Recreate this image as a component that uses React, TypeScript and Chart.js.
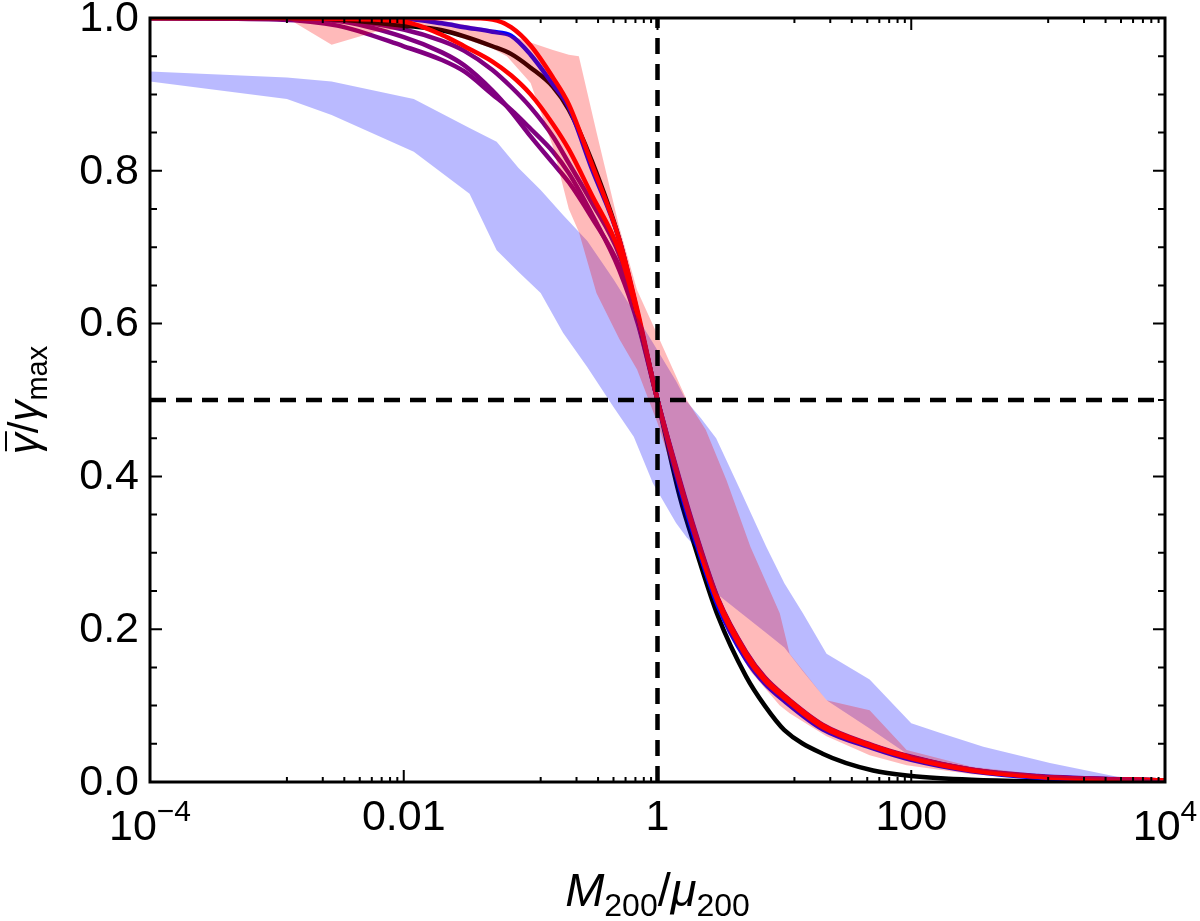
import { useEffect, useRef } from "react";
import Chart from "chart.js/auto";

// sample positions for the model curves (M200/mu200)
const X_LINES = [1e-4, 1e-3, 0.003, 0.01, 0.02, 0.03, 0.05, 0.07, 0.1, 0.15, 0.2, 0.3, 0.5, 0.7, 1, 1.5, 2, 3, 5, 7, 10, 20, 50, 100, 300, 1000, 1e4];

const BLACK = [1, 1, 0.998, 0.99, 0.984, 0.976, 0.963, 0.953, 0.935, 0.91, 0.88, 0.815, 0.71, 0.61, 0.5, 0.373, 0.305, 0.217, 0.138, 0.1, 0.068, 0.037, 0.015, 0.008, 0.003, 0.001, 0];
const RED_A = [1, 1, 1, 1, 1, 1, 0.998, 0.988, 0.964, 0.922, 0.887, 0.811, 0.71, 0.615, 0.5, 0.39, 0.32, 0.235, 0.165, 0.133, 0.11, 0.072, 0.046, 0.031, 0.015, 0.007, 0.002];
const RED_B = [1, 1, 0.999, 0.995, 0.978, 0.963, 0.943, 0.925, 0.9, 0.861, 0.828, 0.77, 0.695, 0.61, 0.5, 0.392, 0.323, 0.238, 0.168, 0.135, 0.112, 0.074, 0.047, 0.032, 0.016, 0.007, 0.002];
const BLUE = [1, 1, 1, 0.999, 0.993, 0.988, 0.982, 0.977, 0.952, 0.913, 0.883, 0.805, 0.71, 0.612, 0.5, 0.385, 0.315, 0.23, 0.16, 0.129, 0.106, 0.069, 0.044, 0.029, 0.014, 0.006, 0.002];
const PURPLE_A = [1, 0.998, 0.99, 0.963, 0.945, 0.93, 0.9, 0.88, 0.855, 0.825, 0.797, 0.745, 0.67, 0.6, 0.5, 0.395, 0.326, 0.24, 0.17, 0.137, 0.113, 0.075, 0.048, 0.033, 0.016, 0.008, 0.002];
const PURPLE_B = [1, 0.999, 0.996, 0.975, 0.955, 0.938, 0.905, 0.878, 0.845, 0.81, 0.785, 0.74, 0.675, 0.603, 0.5, 0.393, 0.324, 0.239, 0.169, 0.136, 0.112, 0.074, 0.047, 0.032, 0.016, 0.007, 0.002];
const PURPLE_C = [1, 1, 0.998, 0.985, 0.97, 0.957, 0.932, 0.91, 0.883, 0.845, 0.81, 0.76, 0.69, 0.61, 0.5, 0.391, 0.322, 0.237, 0.167, 0.134, 0.111, 0.073, 0.047, 0.032, 0.015, 0.007, 0.002];

// blue shaded range
const BLUE_BAND_X = [1e-4, 1.2e-3, 0.0027, 0.012, 0.033, 0.054, 0.08, 0.12, 0.18, 0.28, 0.45, 0.65, 0.92, 1.4, 1.7, 2.2, 2.9, 4.5, 7.2, 10, 14, 21.5, 47, 100, 170, 370, 1240, 4200, 1e4];
const BLUE_BAND_HI = [0.93, 0.922, 0.917, 0.894, 0.856, 0.838, 0.804, 0.775, 0.742, 0.708, 0.658, 0.616, 0.575, 0.525, 0.498, 0.476, 0.45, 0.382, 0.308, 0.26, 0.221, 0.168, 0.134, 0.077, 0.064, 0.046, 0.025, 0.007, 0.002];
const BLUE_BAND_LO = [0.917, 0.894, 0.873, 0.825, 0.77, 0.696, 0.668, 0.64, 0.588, 0.543, 0.491, 0.452, 0.391, 0.339, 0.32, 0.3, 0.247, 0.222, 0.195, 0.176, 0.145, 0.107, 0.07, 0.033, 0.025, 0.015, 0.006, 0.002, 0];

// red (pink) shaded range
const PINK_BAND_X = [1e-4, 1.2e-3, 0.0027, 0.006, 0.015, 0.05, 0.065, 0.1, 0.15, 0.2, 0.24, 0.33, 0.5, 0.69, 1, 1.7, 2.4, 3.5, 5.4, 9.2, 11, 21.5, 47, 92, 300, 1000, 1e4];
const PINK_BAND_HI = [1, 1, 1, 1, 1, 0.985, 0.979, 0.968, 0.958, 0.952, 0.95, 0.851, 0.726, 0.644, 0.585, 0.5, 0.461, 0.395, 0.308, 0.221, 0.168, 0.107, 0.094, 0.042, 0.02, 0.01, 0];
const PINK_BAND_LO = [1, 1, 0.965, 0.982, 0.99, 0.96, 0.95, 0.915, 0.831, 0.75, 0.72, 0.64, 0.58, 0.54, 0.47, 0.35, 0.27, 0.2, 0.145, 0.1, 0.09, 0.06, 0.035, 0.022, 0.01, 0.004, 0];

const REF_X = 1;
const REF_Y = 0.5;

const X_MAJOR = [1e-4, 0.01, 1, 100, 1e4];
const X_LABEL_BASE = ["10", "0.01", "1", "100", "10"];
const X_LABEL_EXP = ["\u22124", "", "", "", "4"];
const Y_MAJOR = [0, 0.2, 0.4, 0.6, 0.8, 1];
const Y_LABELS = ["0.0", "0.2", "0.4", "0.6", "0.8", "1.0"];

const FONT = '"Liberation Sans", Arial, Helvetica, sans-serif';

const toPoints = (xs: number[], ys: number[]) => xs.map((x, i) => ({ x, y: ys[i] }));

type Part = { t: string; f: string; dy: number };

const drawParts = (ctx: CanvasRenderingContext2D, parts: Part[], x0: number, base: number) => {
  let x = x0;
  for (const p of parts) {
    ctx.font = p.f;
    ctx.fillText(p.t, x, base + p.dy);
    x += ctx.measureText(p.t).width;
  }
};
const partsWidth = (ctx: CanvasRenderingContext2D, parts: Part[]) => {
  let w = 0;
  for (const p of parts) {
    ctx.font = p.f;
    w += ctx.measureText(p.t).width;
  }
  return w;
};

const framePlugin = {
  id: "frame",
  afterDraw(chart: any) {
    const { ctx, chartArea: a, scales } = chart;
    const xs = scales.x;
    const ys = scales.y;
    ctx.save();
    ctx.strokeStyle = "#000";
    ctx.fillStyle = "#000";

    // inward ticks on all four sides
    ctx.lineWidth = 2;
    ctx.beginPath();
    for (let i = 0; i < X_MAJOR.length; i++) {
      const px = xs.getPixelForValue(X_MAJOR[i]);
      ctx.moveTo(px, a.bottom); ctx.lineTo(px, a.bottom - 12);
      ctx.moveTo(px, a.top); ctx.lineTo(px, a.top + 12);
      if (i < X_MAJOR.length - 1) {
        const lo = X_MAJOR[i];
        const hi = X_MAJOR[i + 1];
        for (let k = 1; k < 9; k++) {
          const m = xs.getPixelForValue(lo + ((hi - lo) * k) / 9);
          ctx.moveTo(m, a.bottom); ctx.lineTo(m, a.bottom - 5);
          ctx.moveTo(m, a.top); ctx.lineTo(m, a.top + 5);
        }
      }
    }
    for (let i = 0; i <= 20; i++) {
      const py = ys.getPixelForValue(i * 0.05);
      const len = i % 4 === 0 ? 12 : 7;
      ctx.moveTo(a.left, py); ctx.lineTo(a.left + len, py);
      ctx.moveTo(a.right, py); ctx.lineTo(a.right - len, py);
    }
    ctx.stroke();

    ctx.lineWidth = 3;
    ctx.strokeRect(a.left, a.top, a.right - a.left, a.bottom - a.top);

    // y tick labels
    ctx.font = `43px ${FONT}`;
    ctx.textAlign = "right";
    ctx.textBaseline = "middle";
    for (let i = 0; i < Y_MAJOR.length; i++) {
      ctx.fillText(Y_LABELS[i], a.left - 11, ys.getPixelForValue(Y_MAJOR[i]) + 1);
    }

    // x tick labels (with superscripts)
    ctx.textAlign = "left";
    ctx.textBaseline = "alphabetic";
    for (let i = 0; i < X_MAJOR.length; i++) {
      const px = xs.getPixelForValue(X_MAJOR[i]);
      const exp = X_LABEL_EXP[i];
      const parts: Part[] = [{ t: X_LABEL_BASE[i], f: `43px ${FONT}`, dy: 0 }];
      if (exp) parts.push({ t: exp, f: `30px ${FONT}`, dy: -19 });
      const w = partsWidth(ctx, parts);
      drawParts(ctx, parts, px - w / 2, exp ? 840 : 830);
    }

    // x title
    const xt: Part[] = [
      { t: "M", f: `italic 47px ${FONT}`, dy: 0 },
      { t: "200", f: `32px ${FONT}`, dy: 10 },
      { t: "/", f: `47px ${FONT}`, dy: 0 },
      { t: "\u03bc", f: `italic 47px ${FONT}`, dy: 0 },
      { t: "200", f: `32px ${FONT}`, dy: 10 },
    ];
    const xw = partsWidth(ctx, xt);
    drawParts(ctx, xt, (a.left + a.right) / 2 - xw / 2, 906);

    // y title, rotated
    const yt: Part[] = [
      { t: "\u03b3", f: `italic 42px ${FONT}`, dy: 0 },
      { t: "/", f: `42px ${FONT}`, dy: 0 },
      { t: "\u03b3", f: `italic 42px ${FONT}`, dy: 0 },
      { t: "max", f: `29px ${FONT}`, dy: 9 },
    ];
    const yw = partsWidth(ctx, yt);
    ctx.translate(38, (a.top + a.bottom) / 2);
    ctx.rotate(-Math.PI / 2);
    const sx = -yw / 2;
    drawParts(ctx, yt, sx, 0);
    ctx.font = `italic 42px ${FONT}`;
    const gw = ctx.measureText("\u03b3").width;
    ctx.lineWidth = 2;
    ctx.beginPath();
    ctx.moveTo(sx + 3, -32);
    ctx.lineTo(sx + gw + 2, -32);
    ctx.stroke();

    ctx.restore();
  },
};

const App = () => {
  const chartRef = useRef<HTMLCanvasElement>(null);

  useEffect(() => {
    if (!chartRef.current) return;

    const curve = (ys: number[], color: string, order: number) => ({
      data: toPoints(X_LINES, ys),
      borderColor: color,
      borderWidth: 4.5,
      pointRadius: 0,
      fill: false,
      cubicInterpolationMode: "monotone" as const,
      order,
    });
    const bandEdge = (xs: number[], ys: number[], order: number, fillColor?: string) => ({
      data: toPoints(xs, ys),
      borderColor: "rgba(0,0,0,0)",
      borderWidth: 0,
      pointRadius: 0,
      tension: 0,
      fill: fillColor ? "+1" : false,
      backgroundColor: fillColor || "rgba(0,0,0,0)",
      order,
    });
    const refLine = (pts: { x: number; y: number }[]) => ({
      data: pts,
      borderColor: "#000",
      borderWidth: 4.5,
      borderDash: [16, 10],
      pointRadius: 0,
      fill: false,
      order: 0,
    });

    const chart = new Chart(chartRef.current, {
      type: "line",
      data: {
        datasets: [
          refLine([{ x: 1e-4, y: REF_Y }, { x: 1e4, y: REF_Y }]),
          refLine([{ x: REF_X, y: 0 }, { x: REF_X, y: 1 }]),
          bandEdge(PINK_BAND_X, PINK_BAND_HI, 1, "rgba(255,0,0,0.27)"),
          bandEdge(PINK_BAND_X, PINK_BAND_LO, 1),
          bandEdge(BLUE_BAND_X, BLUE_BAND_HI, 2, "rgba(0,0,255,0.27)"),
          bandEdge(BLUE_BAND_X, BLUE_BAND_LO, 2),
          curve(RED_A, "#ff0000", 3),
          curve(RED_B, "#ff0000", 4),
          curve(BLUE, "#0000ff", 5),
          curve(BLACK, "#000000", 6),
          curve(PURPLE_C, "#800080", 7),
          curve(PURPLE_B, "#800080", 8),
          curve(PURPLE_A, "#800080", 9),
        ] as any,
      },
      options: {
        animation: false,
        responsive: true,
        maintainAspectRatio: false,
        events: [],
        layout: { padding: { top: 18, right: 35, left: 0, bottom: 0 } },
        plugins: {
          legend: { display: false },
          tooltip: { enabled: false },
        },
        scales: {
          x: {
            type: "logarithmic",
            min: 1e-4,
            max: 1e4,
            ticks: { display: false },
            grid: { display: false, drawTicks: false },
            border: { display: false },
            afterFit: (s: any) => {
              s.height = 139;
            },
          },
          y: {
            type: "linear",
            min: 0,
            max: 1,
            ticks: { display: false },
            grid: { display: false, drawTicks: false },
            border: { display: false },
            afterFit: (s: any) => {
              s.width = 150;
            },
          },
        },
      },
      plugins: [framePlugin],
    });

    return () => {
      chart.destroy();
    };
  }, []);

  return (
    <div style={{ position: "fixed", left: 0, top: 0, width: "1200px", height: "921px", background: "#fff" }}>
      <canvas ref={chartRef} />
    </div>
  );
};

export default App;
